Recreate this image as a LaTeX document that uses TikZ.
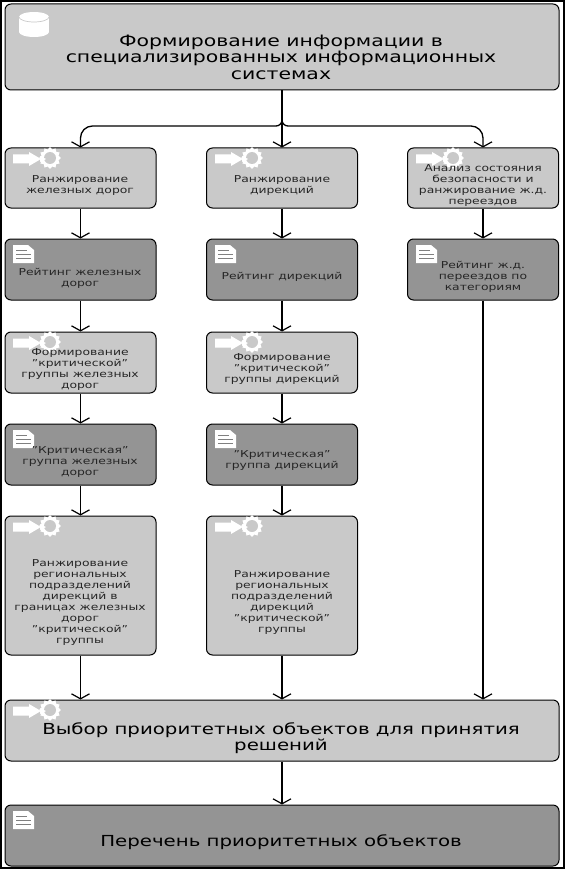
\documentclass[tikz,border=0pt]{standalone}
\usepackage{fontspec}
\setmainfont[FakeStretch=1.3]{DejaVu Sans}
\usetikzlibrary{arrows.meta,shapes.geometric}
\tikzset{
  >={Straight Barb[length=5pt,width=18pt,line width=1.2pt]},
  flowline/.style={draw=black,line width=1.3pt},
  basebox/.style={draw=black,line width=1pt,rounded corners=6pt,inner sep=0pt},
  procbox/.style={basebox,fill=black!21},
  docbox/.style={basebox,fill=black!42},
  boxtext/.style={align=center,font=\fontsize{9.5pt}{11pt}\selectfont,text=black!85},
  bigtext/.style={align=center,font=\fontsize{15.7pt}{16.5pt}\selectfont},
  listtext/.style={align=center,font=\fontsize{15.2pt}{16.5pt}\selectfont},
  procicon/.pic={
    \fill[white] (2,-4.5)--(18,-4.5)--(18,-7)--(30,0)--(18,7)--(18,4.5)--(2,4.5)--cycle;
    \node[star,star points=12,star point ratio=1.25,fill=white,minimum size=22pt,inner sep=0pt] (-gear) at (39,-1) {};
    \fill[black!21] (39,-1) circle (6);
    \fill[white] (29,-3)--(35,0)--(29,3)--cycle;
  },
  docicon/.pic={
    \fill[white] (0,0)--(15,0)--(21,5)--(21,18)--(0,18)--cycle;
    \draw[black!50,line width=0.6pt] (3,5)--(14,5) (3,9)--(18,9) (3,13)--(18,13);
  },
  dbicon/.pic={
    \fill[white] (0,5) rectangle (30,20);
    \fill[white] (15,5) ellipse (15 and 5);
    \fill[white] (15,20) ellipse (15 and 5);
    \draw[black!21,line width=0.7pt] (0,5) arc (180:0:15 and 5);
  }
}
\begin{document}
\begin{tikzpicture}[x=1pt,y=-1pt]
\useasboundingbox (0,0) rectangle (565,869);
\draw[black,line width=1.2pt] (1,1) rectangle (564,868);

% top box
\node[procbox,minimum width=554pt,minimum height=86pt] (info) at (282,47) {};
\node[bigtext] (infotext) at (281,57) {Формирование информации в\\специализированных информационных\\системах};
\pic at (19,12) {dbicon};

% first row
\node[procbox,minimum width=151pt,minimum height=60pt] (rankroads) at (80.5,178) {};
\node[boxtext] (rankroadstext) at (80,186) {Ранжирование\\железных дорог};
\pic at (11,159) {procicon};
\node[procbox,minimum width=151pt,minimum height=60pt] (rankdir) at (282,178) {};
\node[boxtext] (rankdirtext) at (282,186) {Ранжирование\\дирекций};
\pic at (213,159) {procicon};
\node[procbox,minimum width=151pt,minimum height=60pt] (rankcross) at (483,178) {};
\pic at (414,159) {procicon};
\node[boxtext] (rankcrosstext) at (483,186) {Анализ состояния\\безопасности и\\ранжирование ж.д.\\переездов};

% second row
\node[docbox,minimum width=151pt,minimum height=61pt] (ratingroads) at (80.5,269.5) {};
\node[boxtext] (ratingroadstext) at (80,278) {Рейтинг железных\\дорог};
\pic at (13,245) {docicon};
\node[docbox,minimum width=151pt,minimum height=61pt] (ratingdir) at (282,269.5) {};
\node[boxtext] (ratingdirtext) at (282,277) {Рейтинг дирекций};
\pic at (215,245) {docicon};
\node[docbox,minimum width=151pt,minimum height=61pt] (ratingcross) at (483,269.5) {};
\node[boxtext] (ratingcrosstext) at (483,277) {Рейтинг ж.д.\\переездов по\\категориям};
\pic at (416,245) {docicon};

% third row
\node[procbox,minimum width=151pt,minimum height=61pt] (critform) at (80.5,362.5) {};
\pic at (11,343) {procicon};
\node[boxtext] (critformtext) at (80,370) {Формирование\\"критической"\\группы железных\\дорог};
\node[procbox,minimum width=151pt,minimum height=61pt] (critformdir) at (282,362.5) {};
\pic at (213,343) {procicon};
\node[boxtext] (critformdirtext) at (282,369.5) {Формирование\\"критической"\\группы дирекций};

% fourth row
\node[docbox,minimum width=151pt,minimum height=61pt] (critgroup) at (80.5,454.5) {};
\pic at (13,430) {docicon};
\node[boxtext] (critgrouptext) at (80,462.5) {"Критическая"\\группа железных\\дорог};
\node[docbox,minimum width=151pt,minimum height=61pt] (critgroupdir) at (282,454.5) {};
\pic at (215,430) {docicon};
\node[boxtext] (critgroupdirtext) at (282,461) {"Критическая"\\группа дирекций};

% fifth row
\node[procbox,minimum width=151pt,minimum height=139pt] (regroads) at (80.5,585.5) {};
\node[boxtext] (regroadstext) at (80,603) {Ранжирование\\региональных\\подразделений\\дирекций в\\границах железных\\дорог\\"критической"\\группы};
\pic at (11,527) {procicon};
\node[procbox,minimum width=151pt,minimum height=139pt] (regdir) at (282,585.5) {};
\node[boxtext] (regdirtext) at (282,602.5) {Ранжирование\\региональных\\подразделений\\дирекций\\"критической"\\группы};
\pic at (213,527) {procicon};

% bottom boxes
\node[procbox,minimum width=554pt,minimum height=61pt] (choice) at (282,730.5) {};
\pic at (11,711) {procicon};
\node[listtext] (choicetext) at (281,738) {Выбор приоритетных объектов для принятия\\решений};
\node[docbox,minimum width=554pt,minimum height=61pt] (objlist) at (282,835.5) {};
\node[listtext] (objlisttext) at (281,842) {Перечень приоритетных объектов};
\pic at (13,811) {docicon};

% connectors
\coordinate (fork) at (282,119);
\coordinate (forkbar) at (282,126);
\draw[flowline,->] (info.south) -- (rankdir.north);
\draw[flowline,->] (fork) [rounded corners=6pt] -- (forkbar) [rounded corners=12pt] -- (rankroads.north|-forkbar) -- (rankroads.north);
\draw[flowline,->] (fork) [rounded corners=6pt] -- (forkbar) [rounded corners=12pt] -- (rankcross.north|-forkbar) -- (rankcross.north);
\draw[flowline,->] (rankroads) -- (ratingroads);
\draw[flowline,->] (rankdir) -- (ratingdir);
\draw[flowline,->] (rankcross) -- (ratingcross);
\draw[flowline,->] (ratingroads) -- (critform);
\draw[flowline,->] (ratingdir) -- (critformdir);
\draw[flowline,->] (critform) -- (critgroup);
\draw[flowline,->] (critformdir) -- (critgroupdir);
\draw[flowline,->] (critgroup) -- (regroads);
\draw[flowline,->] (critgroupdir) -- (regdir);
\draw[flowline,->] (regroads) -- (regroads|-choice.north);
\draw[flowline,->] (regdir) -- (choice.north);
\draw[flowline,->] (ratingcross) -- (ratingcross|-choice.north);
\draw[flowline,->] (choice) -- (objlist);
\end{tikzpicture}
\end{document}
